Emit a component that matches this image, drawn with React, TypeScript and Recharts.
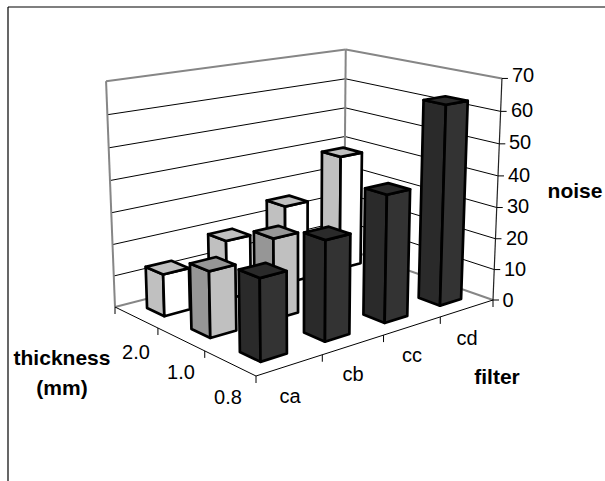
import React from "react";
import { ScatterChart, Scatter, XAxis, YAxis, ReferenceLine, ReferenceDot } from "recharts";

const filters = ["ca", "cb", "cc", "cd"];
const thicknesses = ["0.8", "1.0", "2.0"];
const noiseTicks = [0, 10, 20, 30, 40, 50, 60, 70];
const noise20: (number | null)[] = [13.2, 19, 25.8, 38.4];
const noise10: (number | null)[] = [20.2, 25.3, null, null];
const noise08: (number | null)[] = [24.3, 30.4, 39.5, 63];

// Perspective calibration of the 3D box (floor corners and value-axis scale)
const W = 605, H = 481;
const F0 = [256, 376], R0 = [493, 300], L0 = [115, 307], B0 = [344, 248];
const VP = [302, 5028], FTOP = 120;
const MAXV = 70;

const det = (R0[0] - B0[0]) * (L0[1] - B0[1]) - (L0[0] - B0[0]) * (R0[1] - B0[1]);
const sx = F0[0] - R0[0] + B0[0] - L0[0];
const sy = F0[1] - R0[1] + B0[1] - L0[1];
const g = (sx * (L0[1] - B0[1]) - (L0[0] - B0[0]) * sy) / det;
const h = ((R0[0] - B0[0]) * sy - sx * (R0[1] - B0[1])) / det;
const ax = R0[0] - F0[0] + g * R0[0], ay = R0[1] - F0[1] + g * R0[1];
const bx = L0[0] - F0[0] + h * L0[0], by = L0[1] - F0[1] + h * L0[1];
const iw = (FTOP - F0[1]) / (VP[1] - FTOP);
const cx3 = VP[0] * iw, cy3 = VP[1] * iw;

// u: filter cells 0..4, v: thickness cells 0..3, n: noise value
function project(u: number, v: number, n: number) {
  const U = u / filters.length, V = v / thicknesses.length, N = n / MAXV;
  const d = 1 + g * U + h * V + iw * N;
  return {
    x: (F0[0] + ax * U + bx * V + cx3 * N) / d,
    y: (F0[1] + ay * U + by * V + cy3 * N) / d,
  };
}

const seriesRows = (vals: (number | null)[], t: number) =>
  vals
    .map((n, f) => ({ f, t, n }))
    .filter((r) => r.n !== null)
    .map((r) => {
      const p = project(r.f + 0.5, r.t + 0.5, 0);
      return { ...r, px: p.x, py: p.y };
    })
    .reverse();

const palettes = [
  { left: "#2a2a2a", right: "#333333", top: "#2a2a2a" },
  { left: "#969696", right: "#c0c0c0", top: "#969696" },
  { left: "#c0c0c0", right: "#ffffff", top: "#c0c0c0" },
];

const GAP = 0.3;

function Cuboid(props: any) {
  const { cx, cy, payload } = props;
  const { f, t, n } = payload;
  const base = project(f + 0.5, t + 0.5, 0);
  const P = (u: number, v: number, val: number) => {
    const p = project(f + u, t + v, val);
    return `${p.x - base.x + cx},${p.y - base.y + cy}`;
  };
  const a = GAP, b = 1 - GAP;
  const c = palettes[t];
  const common = { stroke: "#000", strokeWidth: 2.7, strokeLinejoin: "round" as const };
  return (
    <g>
      <polygon points={[P(a, a, 0), P(a, b, 0), P(a, b, n), P(a, a, n)].join(" ")} fill={c.left} {...common} />
      <polygon points={[P(a, a, 0), P(b, a, 0), P(b, a, n), P(a, a, n)].join(" ")} fill={c.right} {...common} />
      <polygon points={[P(a, a, n), P(b, a, n), P(b, b, n), P(a, b, n)].join(" ")} fill={c.top} {...common} />
    </g>
  );
}

const seg = (p: { x: number; y: number }, q: { x: number; y: number }) => [
  { x: p.x, y: p.y },
  { x: q.x, y: q.y },
];

const nf = filters.length, nt = thicknesses.length;
const GRAY = "#868686";
const font = "'Liberation Sans', Arial, sans-serif";
const tickSize = 20, titleSize = 21;

const tickTextPos: [number, number][] = [[508, 300], [515, 269], [517, 238], [518, 206], [519, 175], [520, 142], [522, 110], [523, 75]];
const filterTextPos: [number, number][] = [[290, 396], [353, 374], [412, 355], [467, 338]];
const thickTextPos: [number, number][] = [[228, 397], [181, 372], [136, 352]];
const titles: { text: string; x: number; y: number }[] = [
  { text: "noise", x: 575, y: 191 },
  { text: "filter", x: 497, y: 377 },
  { text: "thickness", x: 62, y: 358 },
  { text: "(mm)", x: 62, y: 388 },
];

const line = (key: string, p: any, q: any, stroke: string, strokeWidth: number) => (
  <ReferenceLine key={key} segment={seg(p, q)} stroke={stroke} strokeWidth={strokeWidth} ifOverflow="visible" />
);

const label = (key: string, x: number, y: number, text: string, size: number, weight: number) => (
  <ReferenceDot key={key} x={x} y={y} r={0} stroke="none" fill="none" ifOverflow="visible"
    label={{ value: text, position: "center", fontSize: size, fontFamily: font, fontWeight: weight, fill: "#000" }} />
);

export default function App() {
  return (
    <div style={{ position: "absolute", left: 0, top: 0, width: W, height: H, background: "#fff" }}>
      <ScatterChart width={W} height={H} margin={{ top: 0, right: 0, bottom: 0, left: 0 }}>
        <XAxis type="number" dataKey="px" domain={[0, W]} hide />
        <YAxis type="number" dataKey="py" domain={[0, H]} reversed hide />

        {line("frameT", { x: 8, y: 7 }, { x: W, y: 7 }, "#000", 1.2)}
        {line("frameL", { x: 8, y: 7 }, { x: 8, y: H }, "#000", 1.2)}

        {noiseTicks.slice(1, -1).map((n) => line("gl" + n, project(0, nt, n), project(nf, nt, n), "#000", 1))}
        {noiseTicks.slice(1, -1).map((n) => line("gr" + n, project(nf, nt, n), project(nf, 0, n), "#000", 1))}

        {line("w1", project(0, nt, 0), project(0, nt, MAXV), GRAY, 2)}
        {line("w2", project(0, nt, MAXV), project(nf, nt, MAXV), GRAY, 2)}
        {line("w3", project(nf, nt, MAXV), project(nf, 0, MAXV), GRAY, 2)}
        {line("w4", project(nf, nt, 0), project(nf, nt, MAXV), GRAY, 2)}
        {line("w5", project(0, nt, 0), project(nf, nt, 0), GRAY, 2)}
        {line("w6", project(nf, nt, 0), project(nf, 0, 0), GRAY, 2)}

        {line("a1", project(nf, 0, 0), project(nf, 0, MAXV), "#222", 1.2)}
        {line("a2", project(0, 0, 0), project(nf, 0, 0), "#000", 1)}
        {line("a3", project(0, 0, 0), project(0, nt, 0), "#000", 1)}
        {noiseTicks.map((n) => {
          const p = project(nf, 0, n);
          return line("tv" + n, p, { x: p.x + 6, y: p.y }, "#000", 1);
        })}
        {filters.concat("end").map((_, i) => {
          const p = project(i, 0, 0);
          return line("tf" + i, p, { x: p.x, y: p.y + 7 }, "#000", 1);
        })}
        {thicknesses.map((_, i) => {
          const p = project(0, i + 1, 0);
          return line("tt" + i, p, { x: p.x, y: p.y + 7 }, "#000", 1);
        })}

        <Scatter name="2.0" data={seriesRows(noise20, 2)} shape={Cuboid} isAnimationActive={false} />
        <Scatter name="1.0" data={seriesRows(noise10, 1)} shape={Cuboid} isAnimationActive={false} />
        <Scatter name="0.8" data={seriesRows(noise08, 0)} shape={Cuboid} isAnimationActive={false} />

        {noiseTicks.map((n, i) => label("n" + n, tickTextPos[i][0], tickTextPos[i][1], String(n), tickSize, 400))}
        {filters.map((s, i) => label(s, filterTextPos[i][0], filterTextPos[i][1], s, tickSize, 400))}
        {thicknesses.map((s, i) => label(s, thickTextPos[i][0], thickTextPos[i][1], s, tickSize, 400))}
        {titles.map((t) => label(t.text, t.x, t.y, t.text, titleSize, 700))}
      </ScatterChart>
    </div>
  );
}
